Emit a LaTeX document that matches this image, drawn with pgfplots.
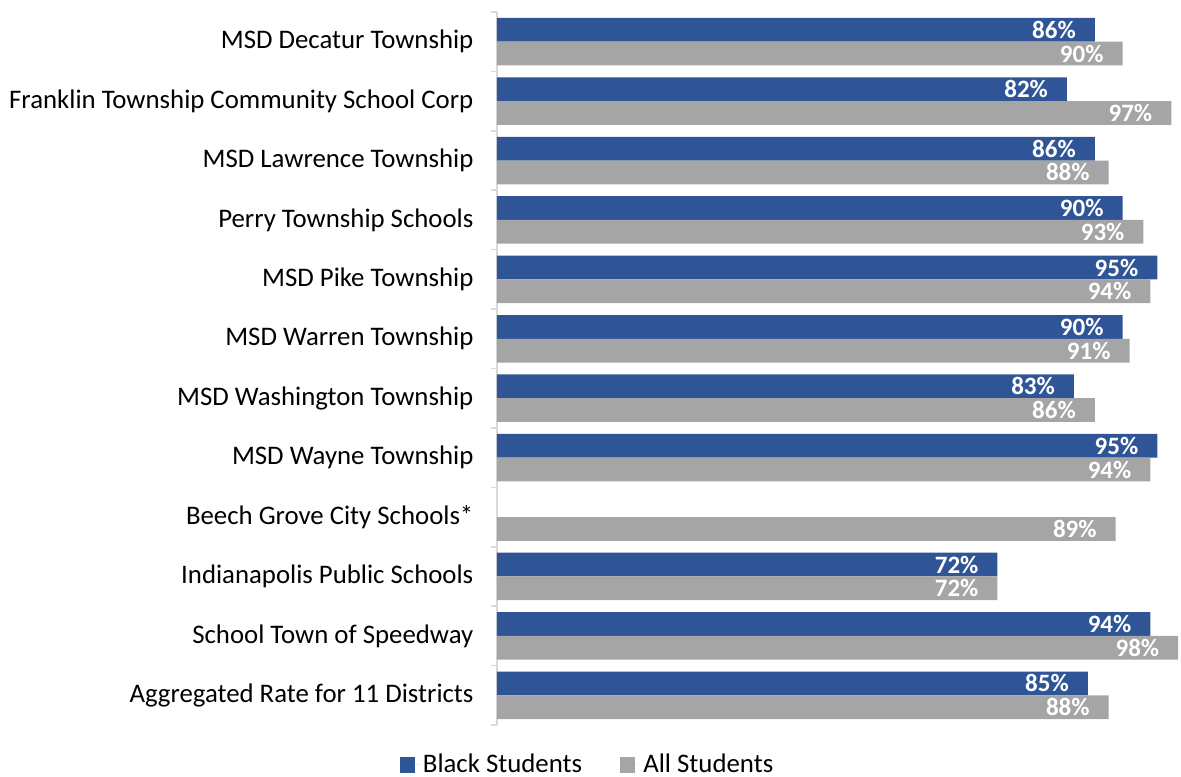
\documentclass[border=0pt]{standalone}
\usepackage{pgfplots}
\pgfplotsset{compat=1.18}
\usepackage{fontspec}
\setmainfont{Carlito}
\definecolor{blk}{HTML}{2F5597}
\definecolor{alls}{HTML}{A5A5A5}
\definecolor{gridc}{HTML}{D9D9D9}

\begin{document}
\begin{tikzpicture}
\begin{axis}[
    name=ax,
    xbar,
    scale only axis,
    width=342pt, height=356.5pt,
    xmin=0, xmax=98.4,
    ymin=-0.5, ymax=11.5,
    y dir=reverse,
    axis x line=none,
    axis y line*=left,
    y axis line style={-, draw=gridc, line width=0.8pt},
    xtick={20,40,60,80},
    xticklabels={},
    xmajorgrids,
    grid style={draw=gridc, line width=0.8pt},
    ytick={0,...,11},
    yticklabels={MSD Decatur Township, Franklin Township Community School Corp, MSD Lawrence Township, Perry Township Schools, MSD Pike Township, MSD Warren Township, MSD Washington Township, MSD Wayne Township, Beech Grove City Schools*, Indianapolis Public Schools, School Town of Speedway, Aggregated Rate for 11 Districts},
    major y tick style={draw=none},
    minor ytick={-0.5,0.5,...,11.5},
    minor tick length=3pt,
    tick align=outside,
    minor y tick style={draw=gridc, line width=0.8pt},
    yticklabel style={font=\fontsize{13.4}{15}\selectfont, xshift=-4pt},
    /pgf/number format/assume math mode=true,
    bar width=0.4,
    nodes near coords={\pgfmathprintnumber{\pgfplotspointmeta}\%},
    nodes near coords style={anchor=east, xshift=-6pt, text=white, font=\bfseries\fontsize{12.5}{14}\selectfont},
    legend style={at={(0.1338,-0.056)}, anchor=center, draw=none, legend columns=2,
        font=\fontsize{13.4}{15}\selectfont,
        /tikz/every even column/.append style={column sep=17pt}},
    legend image code/.code={\fill[#1] (0pt,-3.8pt) rectangle (7.6pt,3.8pt); \path (0pt,0pt) -- (9.6pt,0pt);},
]
\addplot[draw=none, fill=blk, bar shift=-0.2] coordinates {
    (86,0) (82,1) (86,2) (90,3) (95,4) (90,5) (83,6) (95,7) (72,9) (94,10) (85,11)
};
\addlegendentry{Black Students}
\addplot[draw=none, fill=alls, bar shift=0.2] coordinates {
    (90,0) (97,1) (88,2) (93,3) (94,4) (91,5) (86,6) (94,7) (89,8) (72,9) (98,10) (88,11)
};
\addlegendentry{All Students}
\end{axis}
\pgfresetboundingbox
\path[use as bounding box] ([xshift=-248.5pt, yshift=-26pt]ax.south west) rectangle ([yshift=6pt]ax.north east);
\end{tikzpicture}
\end{document}
